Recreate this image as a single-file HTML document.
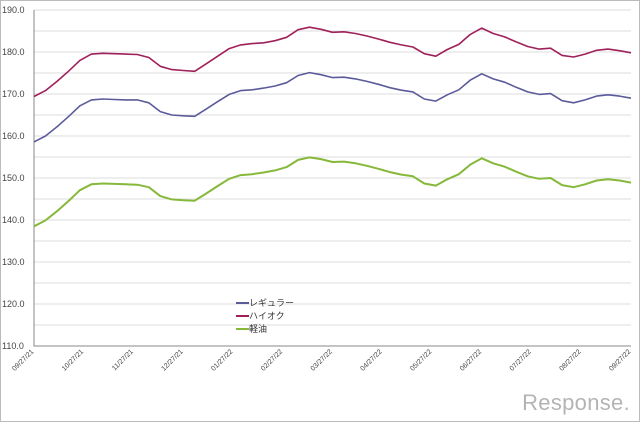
<!DOCTYPE html>
<html><head><meta charset="utf-8"><style>
body{margin:0;background:#fff}
svg{display:block;font-family:"Liberation Sans","Noto Sans CJK JP",sans-serif}
</style></head><body>
<svg id="chart" width="640" height="422" viewBox="0 0 640 422">
<rect x="0.5" y="0.5" width="639" height="421" fill="#fff" stroke="#bbb"/>
<g id="grid"></g><g id="axes"></g><g id="series"></g>
<g font-size="9" fill="#333">
<line x1="236" y1="303" x2="249" y2="303" stroke="#5b5a9b" stroke-width="2"/><text x="249" y="306">レギュラー</text>
<line x1="236" y1="316" x2="249" y2="316" stroke="#a0205a" stroke-width="2"/><text x="249" y="319">ハイオク</text>
<line x1="236" y1="329" x2="249" y2="329" stroke="#86b83a" stroke-width="2"/><text x="249" y="332">軽油</text>
</g>
<text x="630" y="410" text-anchor="end" font-size="22" fill="#b4b4b4" letter-spacing="0.3">Response.</text>
</svg>
<script>
const yTicks=[110,120,130,140,150,160,170,180,190];
const xTickLabels=["09/27/21","10/27/21","11/27/21","12/27/21","01/27/22","02/27/22","03/27/22","04/27/22","05/27/22","06/27/22","07/27/22","08/27/22","09/27/22"];
const regular=[158.6,160.0,162.2,164.6,167.2,168.6,168.8,168.7,168.6,168.6,167.9,165.8,165.0,164.8,164.7,166.4,168.2,169.9,170.8,171.0,171.4,171.9,172.7,174.4,175.1,174.6,173.9,174.0,173.6,173.0,172.3,171.5,170.9,170.5,168.8,168.3,169.8,171.0,173.3,174.8,173.6,172.8,171.6,170.5,169.9,170.1,168.4,167.9,168.6,169.5,169.8,169.5,169.0];
const highOctane=[169.4,170.8,173.0,175.4,178.0,179.5,179.7,179.6,179.5,179.4,178.7,176.6,175.8,175.6,175.4,177.2,179.0,180.8,181.7,182.0,182.2,182.7,183.5,185.3,185.9,185.4,184.7,184.8,184.4,183.8,183.1,182.3,181.7,181.2,179.6,179.0,180.6,181.8,184.2,185.7,184.4,183.6,182.4,181.3,180.7,180.9,179.2,178.8,179.5,180.4,180.7,180.3,179.8];
const diesel=[138.5,139.9,142.1,144.5,147.1,148.5,148.7,148.6,148.5,148.4,147.8,145.7,144.9,144.7,144.6,146.3,148.1,149.8,150.7,150.9,151.3,151.8,152.6,154.3,154.9,154.5,153.8,153.9,153.5,152.9,152.2,151.4,150.8,150.4,148.7,148.2,149.7,150.9,153.2,154.7,153.5,152.7,151.5,150.4,149.8,150.0,148.3,147.8,148.5,149.4,149.7,149.4,148.9];
const NS="http://www.w3.org/2000/svg";
const X0=34,X1=631,Y0=346,Y1=10,VMIN=110,VMAX=190;
const n=regular.length;
function xAt(i){return X0+(X1-X0)*i/(n-1);}
function yAt(v){return Y0-(v-VMIN)/(VMAX-VMIN)*(Y0-Y1);}
function mk(tag,attrs,parent){const e=document.createElementNS(NS,tag);for(const k in attrs)e.setAttribute(k,attrs[k]);parent.appendChild(e);return e;}
const grid=document.getElementById('grid'),axes=document.getElementById('axes'),ser=document.getElementById('series');
for(let v=VMIN+5;v<=VMAX;v+=5){
  const l=mk('line',{x1:X0,x2:X1,y1:yAt(v),y2:yAt(v),stroke:'#dedede','stroke-width':1},grid);
  
  
}
yTicks.forEach(v=>{
  const t=mk('text',{x:2,y:yAt(v)+3,'font-size':9,fill:'#444'},axes);
  t.textContent=v.toFixed(1);
  
  
});
const ax=mk('path',{d:`M${X0} ${Y1}V${Y0}H${X1}`,stroke:'#888',fill:'none'},axes);


xTickLabels.forEach((s,i)=>{
  const x=X0+(X1-X0)*i/(xTickLabels.length-1);
  const t=mk('text',{x:x,y:352,'font-size':7,fill:'#444','text-anchor':'end',transform:`rotate(-45 ${x} 352)`},axes);
  t.textContent=s;
  
  
});
[[regular,'#5b5a9b','line-regular'],[highOctane,'#a0205a','line-high-octane'],[diesel,'#86b83a','line-diesel']].forEach(([d,c,nm])=>{
  const p=mk('polyline',{points:d.map((v,i)=>xAt(i).toFixed(1)+','+yAt(v).toFixed(1)).join(' '),fill:'none',stroke:c,'stroke-width':c=='#86b83a'?2:1.6,'stroke-linejoin':'round'},ser);
  
  
});
</script>
</body></html>
